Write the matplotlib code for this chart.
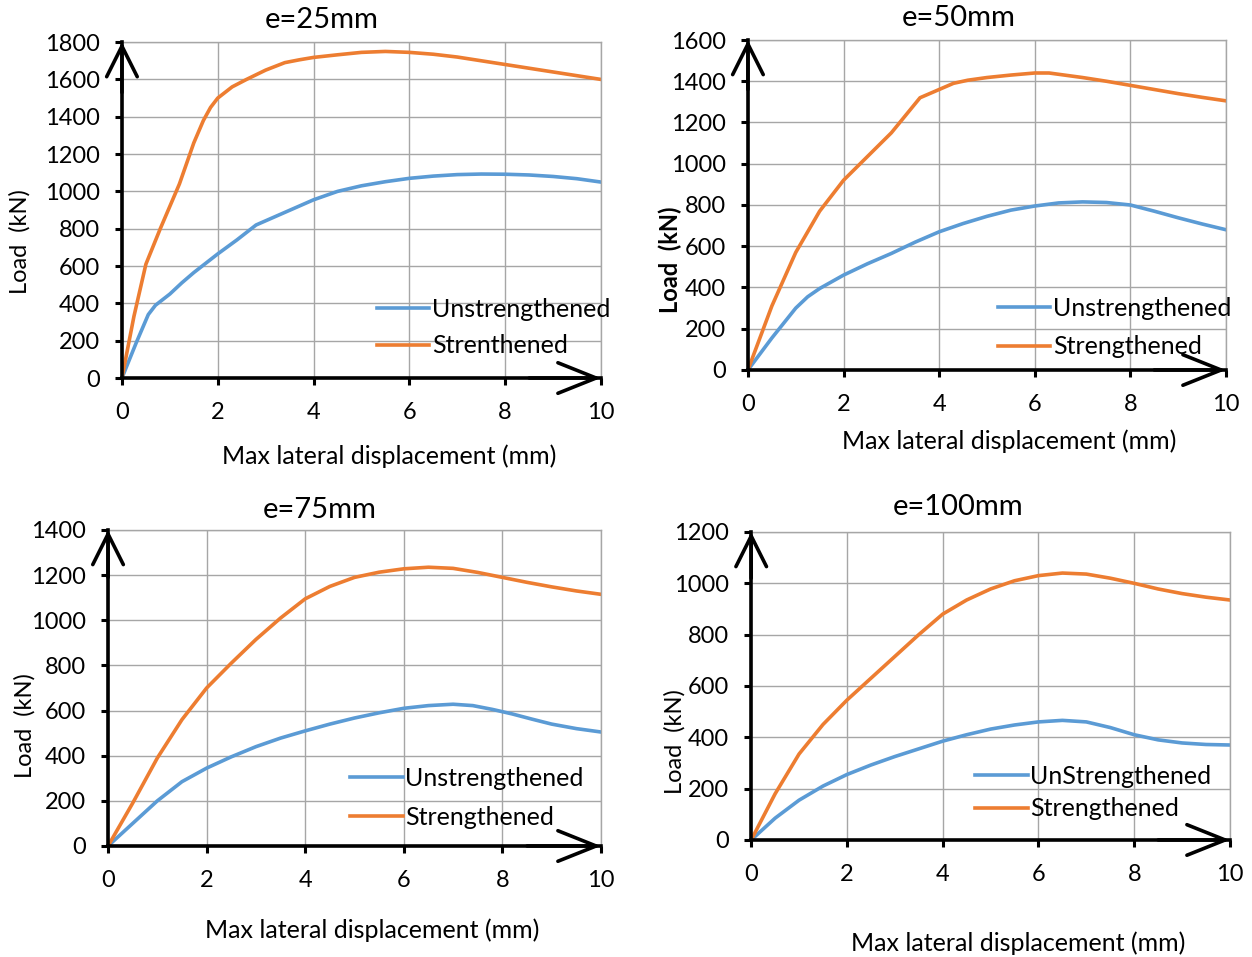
import numpy as np
import matplotlib
matplotlib.use('Agg')
import matplotlib.pyplot as plt

#plot settings
matplotlib.rcParams.update({
    'font.family': ['Lato', 'DejaVu Sans'],
    'font.size': 17,
})

blue = '#5B9BD5'
orange = '#ED7D31'

# e = 25 mm
x25_un = [0, 0.3, 0.55, 0.7, 1.0, 1.25, 1.5, 2.0, 2.4, 2.8, 3.2, 3.6, 4.0, 4.5, 5.0, 5.5, 6.0, 6.5, 7.0, 7.5, 8.0, 8.5, 9.0, 9.5, 10.0]
y25_un = [0, 190, 340, 390, 450, 510, 565, 665, 740, 820, 865, 910, 955, 1000, 1030, 1052, 1070, 1082, 1090, 1093, 1092, 1088, 1080, 1068, 1050]
x25_st = [0, 0.25, 0.5, 0.8, 1.2, 1.5, 1.7, 1.85, 2.0, 2.3, 2.6, 3.0, 3.4, 3.7, 4.0, 4.5, 5.0, 5.5, 6.0, 6.5, 7.0, 7.5, 8.0, 8.5, 9.0, 9.5, 10.0]
y25_st = [0, 330, 610, 800, 1040, 1260, 1380, 1450, 1500, 1560, 1600, 1650, 1690, 1705, 1718, 1732, 1745, 1750, 1745, 1735, 1720, 1700, 1680, 1660, 1640, 1620, 1600]

# e = 50 mm
x50_un = [0, 0.5, 1.0, 1.25, 1.5, 2.0, 2.5, 3.0, 3.5, 4.0, 4.5, 5.0, 5.5, 6.0, 6.5, 7.0, 7.5, 8.0, 8.5, 9.0, 9.5, 10.0]
y50_un = [0, 155, 300, 355, 395, 460, 515, 565, 620, 670, 710, 745, 775, 795, 810, 815, 812, 800, 770, 738, 708, 680]
x50_st = [0, 0.5, 1.0, 1.5, 2.0, 2.5, 3.0, 3.6, 4.0, 4.3, 4.6, 5.0, 5.5, 6.0, 6.3, 7.0, 7.5, 8.0, 8.5, 9.0, 9.5, 10.0]
y50_st = [0, 310, 570, 770, 920, 1035, 1150, 1320, 1360, 1390, 1405, 1418, 1430, 1440, 1440, 1418, 1400, 1380, 1360, 1340, 1322, 1305]

# e = 75 mm
x75_un = [0, 0.5, 1.0, 1.5, 2.0, 2.5, 3.0, 3.5, 4.0, 4.5, 5.0, 5.5, 6.0, 6.5, 7.0, 7.4, 7.8, 8.2, 8.6, 9.0, 9.5, 10.0]
y75_un = [0, 100, 200, 285, 345, 395, 440, 478, 510, 540, 567, 590, 610, 622, 628, 622, 605, 585, 562, 540, 520, 505]
x75_st = [0, 0.5, 1.0, 1.5, 2.0, 2.5, 3.0, 3.5, 4.0, 4.5, 5.0, 5.5, 6.0, 6.5, 7.0, 7.5, 8.0, 8.5, 9.0, 9.5, 10.0]
y75_st = [0, 190, 390, 560, 700, 810, 915, 1010, 1095, 1150, 1190, 1213, 1228, 1235, 1230, 1212, 1190, 1168, 1148, 1130, 1115]

# e = 100 mm
x100_un = [0, 0.5, 1.0, 1.5, 2.0, 2.5, 3.0, 3.5, 4.0, 4.5, 5.0, 5.5, 6.0, 6.5, 7.0, 7.5, 8.0, 8.5, 9.0, 9.5, 10.0]
y100_un = [0, 85, 155, 210, 255, 292, 325, 355, 385, 410, 432, 448, 460, 466, 460, 438, 410, 390, 378, 372, 370]
x100_st = [0, 0.5, 1.0, 1.5, 2.0, 2.5, 3.0, 3.5, 4.0, 4.5, 5.0, 5.5, 6.0, 6.5, 7.0, 7.5, 8.0, 8.5, 9.0, 9.5, 10.0]
y100_st = [0, 180, 335, 450, 545, 630, 715, 800, 880, 935, 978, 1010, 1030, 1040, 1036, 1020, 1000, 978, 960, 946, 935]

titles = ['e=25mm', 'e=50mm', 'e=75mm', 'e=100mm']
ymaxes = [1800, 1600, 1400, 1200]
labels_un = ['Unstrengthened', 'Unstrengthened', 'Unstrengthened', 'UnStrengthened']
labels_st = ['Strenthened', 'Strengthened', 'Strengthened', 'Strengthened']
xticks = [0, 2, 4, 6, 8, 10]

fig = plt.figure(figsize=(12.52, 9.57), dpi=100)

# [left, bottom, width, height]
rects = [[0.0974, 0.605, 0.3826, 0.351],
         [0.5974, 0.6134, 0.3818, 0.3448],
         [0.0863, 0.116, 0.3937, 0.3302],
         [0.600, 0.1223, 0.3824, 0.3218]]
title_pos = [(0.418, 1.065), (0.44, 1.067), (0.43, 1.063), (0.432, 1.081)]
xlab_pos = [(0.557, -0.232), (0.546, -0.215), (0.535, -0.266), (0.557, -0.334)]
ylab_pos = [(-0.213, 0.405), (-0.163, 0.333), (-0.168, 0.38), (-0.159, 0.32)]
ylab_bold = [False, True, False, False]
leg_pos = [(0.532, 0.238), (0.523, 0.221), (0.491, 0.25), (0.468, 0.243)]
leg_space = [0.53, 0.61, 0.65, 0.37]

data = [(x25_un, y25_un, x25_st, y25_st),
        (x50_un, y50_un, x50_st, y50_st),
        (x75_un, y75_un, x75_st, y75_st),
        (x100_un, y100_un, x100_st, y100_st)]

for i in range(4):
  ax = fig.add_axes(rects[i])
  xu, yu, xs, ys = data[i]
  ax.plot(xu, yu, color=blue, lw=2.6, label=labels_un[i], solid_joinstyle='round')
  ax.plot(xs, ys, color=orange, lw=2.6, label=labels_st[i], solid_joinstyle='round')

  ax.set_xlim(0, 10)
  ax.set_ylim(0, ymaxes[i])
  ax.set_xticks(xticks)
  ax.set_yticks(np.arange(0, ymaxes[i] + 1, 200))
  ax.grid(True, color='#A6A6A6', lw=1)
  ax.set_axisbelow(True)

  for s in ['top', 'right']:
    ax.spines[s].set_color('#A6A6A6')
    ax.spines[s].set_linewidth(1)
  for s in ['left', 'bottom']:
    ax.spines[s].set_color('black')
    ax.spines[s].set_linewidth(2.6)
    ax.spines[s].set_zorder(3)
  ax.tick_params(direction='out', length=5, width=2.2, colors='black', labelsize=17)
  ax.tick_params(axis='x', pad=12)
  ax.tick_params(axis='y', pad=11)

  # arrow heads on the axes
  ax.annotate('', xy=(0, 1.0), xytext=(0, 0.85), xycoords='axes fraction',
              arrowprops=dict(arrowstyle='->,head_length=1.0,head_width=0.5', lw=2.6,
                              color='black', mutation_scale=22, shrinkA=0, shrinkB=0))
  ax.annotate('', xy=(1.0, 0), xytext=(0.85, 0), xycoords='axes fraction',
              arrowprops=dict(arrowstyle='->,head_length=1.25,head_width=0.5', lw=2.6,
                              color='black', mutation_scale=22, shrinkA=0, shrinkB=0))

  ax.text(title_pos[i][0], title_pos[i][1], titles[i], transform=ax.transAxes,
          ha='center', va='center', fontsize=21)
  ax.set_xlabel('Max lateral displacement (mm)', fontsize=18, va='center')
  ax.xaxis.set_label_coords(*xlab_pos[i])
  ax.set_ylabel('Load  (kN)', fontsize=17, va='center',
                fontweight='bold' if ylab_bold[i] else 'normal')
  ax.yaxis.set_label_coords(*ylab_pos[i])

  ax.legend(loc='upper left', bbox_to_anchor=leg_pos[i], frameon=False,
            borderpad=0, borderaxespad=0, handlelength=2.1, handletextpad=0.1,
            labelspacing=leg_space[i], fontsize=18)

fig.savefig('out.png', dpi=100)
